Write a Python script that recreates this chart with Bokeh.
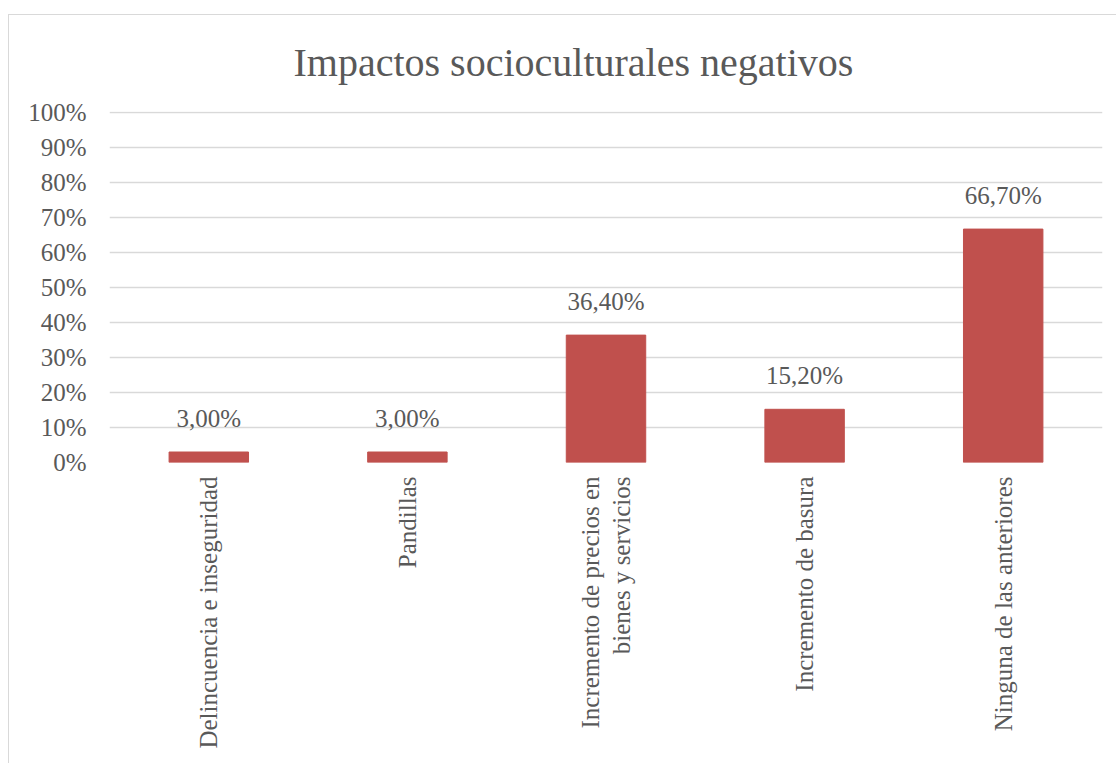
import math
from bokeh.plotting import figure
from bokeh.models import (ColumnDataSource, FactorRange, Range1d, LabelSet,
                          SingleIntervalTicker, PrintfTickFormatter)
from bokeh.embed import file_html
from bokeh.resources import INLINE

# ---- data ----
categories = [
    "Delincuencia e inseguridad",
    "Pandillas",
    "Incremento de precios en\nbienes y servicios",
    "Incremento de basura",
    "Ninguna de las anteriores",
]
values = [3.0, 3.0, 36.4, 15.2, 66.7]
title_text = "Impactos socioculturales negativos"

FONT = "Liberation Serif"
TEXT = "#595959"
GRID = "#D9D9D9"
BAR = "#C0504D"

p = figure(
    width=1108, height=757,
    x_range=FactorRange(*categories, range_padding=0),
    y_range=Range1d(0, 100.3),
    output_backend="svg", toolbar_location=None,
    min_border_left=101, min_border_right=14,
    min_border_top=105, min_border_bottom=301,
)
# light chart-area border (top and left edges) drawn as a CSS background
p.styles = {
    "margin-left": "8px", "margin-top": "6px",
    "background": ("linear-gradient(#D9D9D9,#D9D9D9) 0px 8px / 100% 1px no-repeat, "
                   "linear-gradient(#D9D9D9,#D9D9D9) 0px 8px / 1px 100% no-repeat, white"),
}
p.outline_line_color = None
p.background_fill_color = "white"
p.border_fill_color = None

p.title.text = title_text
p.title.align = "left"
p.title.offset = 184
p.title.standoff = 53
p.title.text_font = FONT
p.title.text_font_size = "40px"
p.title.text_font_style = "normal"
p.title.text_color = TEXT

src = ColumnDataSource(dict(
    x=categories, top=values,
    lbl=[f"{v:.2f}%".replace(".", ",") for v in values],
))
p.vbar(x="x", top="top", width=0.4, source=src, fill_color=BAR, line_color=BAR)

# y axis
p.yaxis.ticker = SingleIntervalTicker(interval=10, num_minor_ticks=0)
p.yaxis.formatter = PrintfTickFormatter(format="%d%%")
p.yaxis.axis_line_color = None
p.yaxis.major_tick_line_color = None
p.yaxis.minor_tick_line_color = None
p.yaxis.major_tick_out = 0
p.yaxis.major_tick_in = 0
p.yaxis.major_label_standoff = 23
p.yaxis.major_label_text_font = FONT
p.yaxis.major_label_text_font_size = "25px"
p.yaxis.major_label_text_color = TEXT

# x axis (rotated category labels)
p.xaxis.axis_line_color = None
p.xaxis.major_tick_line_color = None
p.xaxis.minor_tick_line_color = None
p.xaxis.major_tick_out = 0
p.xaxis.major_tick_in = 0
p.xaxis.major_label_standoff = 14
p.xaxis.major_label_orientation = math.pi / 2
p.xaxis.major_label_text_font = FONT
p.xaxis.major_label_text_font_size = "25px"
p.xaxis.major_label_text_color = TEXT
p.xaxis.major_label_text_line_height = 1.15

p.xgrid.grid_line_color = None
p.ygrid.grid_line_color = GRID
p.ygrid.grid_line_width = 1.5

# data labels
p.add_layout(LabelSet(x="x", y="top", text="lbl", source=src, y_offset=25,
                      text_align="center", text_baseline="alphabetic",
                      text_font=FONT, text_font_size="25px", text_color=TEXT))

open("out.html", "w").write(file_html(p, INLINE))
